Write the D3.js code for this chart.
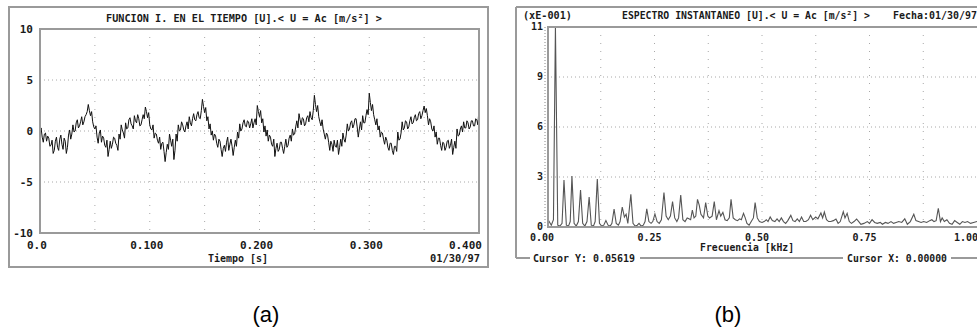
<!DOCTYPE html>
<html><head><meta charset="utf-8">
<script src="https://cdn.jsdelivr.net/npm/d3@7"></script>
<style>body{margin:0;background:#fff}svg{display:block}</style>
</head><body>
<script>
// ---------- DATA: (a) time signal ----------
const timeStep = 0.001; // seconds between samples
const timeValues = [
 -0.1,0.3,-0.6,-1.1,-0.3,-0.2,-1.0,-0.5,-0.7,-1.5,
 -1.4,-0.9,-2.2,-1.9,-1.0,-0.6,-1.6,-1.9,-0.8,-0.4,
 -1.3,-1.8,-0.7,-1.0,-2.2,-1.6,-0.4,0.1,-0.8,-0.3,
 0.6,-0.1,0.0,0.8,1.1,0.3,0.5,0.9,1.4,0.6,
 0.9,1.4,1.6,1.9,2.6,2.0,1.5,1.9,0.9,0.4,
 0.2,0.5,-0.6,-1.2,-0.2,0.1,-1.1,-0.5,-0.7,-1.4,
 -1.6,-0.9,-2.5,-1.8,-1.0,-1.7,-1.3,-0.6,-0.7,-1.2,
 -1.4,-1.9,-0.3,-0.8,0.6,0.1,-0.2,-0.7,0.8,0.2,
 0.3,1.1,1.3,0.7,0.5,0.2,1.5,1.0,0.8,1.6,
 1.2,0.5,0.6,1.1,1.6,1.2,2.35,1.9,1.3,1.8,
 0.6,0.2,0.1,0.6,-0.7,-0.2,-0.3,-0.9,-1.2,-0.6,
 -1.8,-1.2,-1.1,-2.0,-3.0,-2.1,-1.3,-1.8,-0.3,-0.9,
 -1.5,-0.8,-2.8,-1.9,-0.3,-1.0,0.6,0.0,0.1,0.9,
 0.6,0.1,-0.1,0.5,0.9,0.2,1.4,0.8,0.5,1.2,
 1.7,1.1,1.0,1.6,1.9,1.3,1.2,2.0,3.1,2.4,
 1.8,2.3,1.0,1.4,0.2,0.7,-0.4,0.0,-0.9,-0.3,
 -0.5,-1.2,-1.6,-0.8,-1.0,-1.8,-2.5,-1.7,-1.4,-2.0,
 -1.1,-0.6,-1.9,-1.3,-0.8,-1.5,-2.4,-1.6,-0.9,-1.5,
 -0.1,-0.7,0.7,0.0,0.2,0.8,1.1,0.5,0.4,1.0,
 0.9,0.3,0.7,1.2,0.3,0.8,1.2,0.6,2.5,1.9,
 1.4,2.0,0.8,1.2,-0.1,0.5,-0.5,0.1,-1.0,-0.4,
 -0.6,-1.3,-1.5,-0.8,-2.5,-1.7,-1.2,-2.0,-1.8,-1.1,
 -1.1,-1.7,-2.2,-1.5,-0.8,-1.6,-1.4,-0.7,-0.4,-1.0,
 0.2,-0.4,-0.3,0.4,1.0,0.3,1.7,1.1,0.6,1.3,
 1.2,0.5,0.7,1.3,1.5,0.9,1.9,1.3,1.1,2.0,
 3.5,2.6,1.9,2.5,1.4,0.9,0.5,1.1,0.2,-0.3,
 -0.8,-0.2,-0.4,-1.1,-1.9,-1.0,-1.3,-2.0,-0.9,-1.5,
 -1.6,-0.9,-2.3,-1.6,-0.8,-1.5,-0.2,-0.8,-1.1,-0.4,
 0.7,0.0,0.2,0.8,1.0,0.3,0.6,1.2,1.2,0.4,
 -0.6,0.2,0.9,0.1,1.5,0.8,0.8,1.5,2.1,1.6,
 3.7,2.8,2.0,2.6,1.6,1.1,0.6,1.2,0.1,0.5,
 -0.6,-0.1,-0.2,-0.8,-1.3,-0.6,-0.9,-1.6,-1.9,-1.2,
 -1.2,-1.9,-2.3,-1.5,-1.5,-2.0,-0.1,-0.9,-0.8,-0.2,
 0.9,0.1,0.3,1.0,0.9,0.2,0.4,1.0,1.4,0.7,
 0.8,1.3,1.6,1.0,1.1,1.7,1.9,1.2,1.5,2.0,
 2.45,1.8,2.2,1.5,0.6,1.2,0.9,0.2,0.0,0.5,
 -0.6,-0.1,-1.3,-0.7,-0.7,-1.4,-1.9,-1.1,-1.2,-1.9,
 -1.6,-1.0,-0.9,-1.7,-1.4,-0.8,-2.3,-1.6,-1.0,-1.7,
 0.2,-0.5,-0.4,0.2,0.5,-0.1,0.9,0.3,0.3,1.0,
 0.8,0.2,0.4,1.0,1.0,0.5,0.5,1.2,1.1,0.6,
 2.2
];
const timeXTicks = [0, 0.1, 0.2, 0.3, 0.4];
const timeXTickLabels = ["0.0", "0.100", "0.200", "0.300", "0.400"];
const timeXGrid = [0.05, 0.1, 0.15, 0.2, 0.25, 0.3, 0.35];
const timeYTicks = [10, 5, 0, -5, -10];
const timeYTickLabels = ["10", "5", "0", "-5", "-10"];
const timeYGrid = [5, 0, -5];

// ---------- DATA: (b) spectrum (kHz, xE-001) ----------
const specFreq = [
 0.000,0.005,0.010,0.015,0.0196,0.025,0.030,0.035,0.0395,0.045,
 0.050,0.054,0.058,0.063,0.068,0.073,0.078,0.083,0.088,0.093,
 0.098,0.103,0.108,0.112,0.117,0.122,0.127,0.132,0.137,0.142,
 0.147,0.151,0.156,0.161,0.166,0.170,0.175,0.180,0.184,0.188,
 0.195,0.200,0.205,0.210,0.214,0.219,0.224,0.228,0.232,0.237,
 0.242,0.246,0.251,0.256,0.261,0.266,0.272,0.277,0.282,0.287,
 0.292,0.297,0.302,0.306,0.311,0.316,0.321,0.326,0.330,0.334,
 0.338,0.342,0.346,0.350,0.354,0.358,0.364,0.369,0.374,0.378,
 0.384,0.389,0.394,0.400,0.404,0.409,0.414,0.419,0.424,0.428,
 0.433,0.438,0.443,0.448,0.452,0.457,0.461,0.465,0.470,0.475,
 0.480,0.484,0.489,0.494,0.500,0.505,0.510,0.514,0.519,0.524,
 0.530,0.535,0.540,0.545,0.550,0.555,0.560,0.567,0.572,0.577,
 0.582,0.587,0.592,0.597,0.602,0.608,0.613,0.618,0.625,0.630,
 0.637,0.641,0.645,0.650,0.655,0.660,0.666,0.672,0.677,0.682,
 0.689,0.693,0.698,0.703,0.708,0.714,0.720,0.725,0.730,0.737,
 0.745,0.750,0.756,0.762,0.768,0.775,0.780,0.787,0.793,0.800,
 0.806,0.812,0.818,0.825,0.832,0.838,0.845,0.853,0.858,0.864,
 0.870,0.876,0.883,0.890,0.895,0.900,0.905,0.910,0.915,0.919,
 0.924,0.930,0.936,0.942,0.948,0.954,0.960,0.966,0.972,0.978,
 0.985,0.992,1.000
];
const specAmp = [
 0.5,0.3,0.1,0.4,11.0,0.1,0.05,0.2,2.58,0.1,
 0.05,0.3,2.8,0.2,0.05,0.3,2.03,0.2,0.05,0.3,
 1.65,0.1,0.05,0.3,2.64,0.2,0.05,0.1,0.35,0.1,
 0.05,0.2,0.99,0.2,0.1,0.3,1.1,0.55,0.7,0.2,
 1.8,0.2,0.05,0.1,0.2,0.05,0.1,0.3,1.0,0.3,
 0.2,0.3,0.72,0.3,0.2,0.4,1.9,0.6,0.4,0.6,
 1.4,0.5,0.3,0.5,1.76,0.4,0.3,0.5,0.45,0.4,
 0.93,0.5,0.6,1.52,1.2,0.7,0.5,1.34,0.6,0.5,
 0.6,1.4,0.4,0.9,0.6,0.8,0.4,0.35,0.5,1.52,
 0.5,0.4,0.35,0.45,0.4,0.75,0.5,0.2,0.1,0.3,
 0.5,1.34,0.5,0.3,0.25,0.3,0.4,0.3,0.55,0.35,
 0.3,0.45,0.3,0.5,0.3,0.2,0.35,0.64,0.35,0.3,
 0.45,0.3,0.55,0.3,0.3,0.4,0.64,0.4,0.55,0.45,
 0.77,0.5,0.82,0.4,0.3,0.3,0.35,0.44,0.2,0.3,
 0.84,0.5,0.75,0.3,0.2,0.3,0.44,0.3,0.15,0.2,
 0.3,0.2,0.4,0.25,0.2,0.25,0.15,0.25,0.2,0.3,
 0.2,0.25,0.3,0.25,0.45,0.15,0.3,0.7,0.35,0.3,
 0.25,0.3,0.25,0.35,0.4,0.3,0.35,1.03,0.3,0.5,
 0.3,0.4,0.2,0.15,0.35,0.25,0.15,0.3,0.25,0.3,
 0.2,0.25,0.3
];
const specXTicks = [0, 0.25, 0.5, 0.75, 1.0];
const specXTickLabels = ["0.00", "0.25", "0.50", "0.75", "1.00"];
const specXGrid = [0.125, 0.25, 0.375, 0.5, 0.625, 0.75, 0.875];
const specYTicks = [0, 2.75, 5.5, 8.25, 11];
const specYTickLabels = ["0", "3", "6", "9", "11"];
const specYGrid = [2.75, 5.5, 8.25];

// ---------- DRAW ----------
const W = 977, H = 330;
const svg = d3.select("body").append("svg").attr("width", W).attr("height", H);
const MONO = "'DejaVu Sans Mono', monospace";
const frameCol = "#9a9a9a", gridCol = "#a8a8a8", txtCol = "#1a1a1a";

function txt(x, y, s, anchor, len, size) {
  const t = svg.append("text").attr("x", x).attr("y", y).text(s)
    .attr("font-family", MONO).attr("font-weight", "bold")
    .attr("font-size", size || 10).attr("fill", txtCol)
    .attr("text-anchor", anchor || "start");
  if (len) t.attr("textLength", len).attr("lengthAdjust", "spacingAndGlyphs");
  return t;
}

// ===== Panel (a) =====
svg.append("rect").attr("x", 9).attr("y", 7).attr("width", 479).attr("height", 260)
  .attr("fill", "none").attr("stroke", frameCol).attr("stroke-width", 2);
txt(244, 22, "FUNCION I. EN EL TIEMPO [U].< U =  Ac [m/s²] >", "middle", 276, 11);

const xA = d3.scaleLinear().domain([0, 0.4]).range([40, 479]);
const yA = d3.scaleLinear().domain([-10, 10]).range([233, 29]);

const gA = svg.append("g");
gA.selectAll("line.vg").data(timeXGrid).join("line")
  .attr("x1", d => xA(d)).attr("x2", d => xA(d)).attr("y1", yA(10)).attr("y2", yA(-10))
  .attr("stroke", gridCol).attr("stroke-dasharray", "1,7");
gA.selectAll("line.hg").data(timeYGrid).join("line")
  .attr("x1", xA(0)).attr("x2", xA(0.4)).attr("y1", d => yA(d)).attr("y2", d => yA(d))
  .attr("stroke", gridCol).attr("stroke-dasharray", "1,3");

svg.append("clipPath").attr("id", "clipA").append("rect")
  .attr("x", xA(0)).attr("y", yA(10)).attr("width", xA(0.4) - xA(0)).attr("height", yA(-10) - yA(10));
const lineA = d3.line().x((d, i) => xA(i * timeStep)).y(d => yA(d));
svg.append("path").datum(timeValues).attr("d", lineA).attr("clip-path", "url(#clipA)")
  .attr("fill", "none").attr("stroke", "#111").attr("stroke-width", 1);

svg.append("rect").attr("x", xA(0)).attr("y", yA(10)).attr("width", xA(0.4) - xA(0)).attr("height", yA(-10) - yA(10))
  .attr("fill", "none").attr("stroke", frameCol).attr("stroke-width", 2);

timeYTicks.forEach((v, i) => txt(33, yA(v) + 4, timeYTickLabels[i], "end", null, 11));
timeXTicks.forEach((v, i) => {
  const last = i === timeXTicks.length - 1, first = i === 0;
  txt(first ? xA(v) - 13 : last ? xA(v) + 3 : xA(v) - 3, 249, timeXTickLabels[i],
      first ? "start" : last ? "end" : "middle", null, 11);
});
txt(238, 262, "Tiempo [s]", "middle", 60, 11);
txt(480, 262, "01/30/97", "end", 50, 11);

// ===== Panel (b) =====
const fr = svg.append("g").attr("stroke", frameCol).attr("stroke-width", 2);
fr.append("line").attr("x1", 516).attr("x2", 977).attr("y1", 7).attr("y2", 7);
fr.append("line").attr("x1", 516).attr("x2", 516).attr("y1", 7).attr("y2", 258);
fr.append("line").attr("x1", 516).attr("x2", 530).attr("y1", 258).attr("y2", 258);
fr.append("line").attr("x1", 640).attr("x2", 843).attr("y1", 258).attr("y2", 258);
fr.append("line").attr("x1", 951).attr("x2", 977).attr("y1", 258).attr("y2", 258);

txt(523, 19, "(xE-001)", "start", 49, 10);
txt(746, 19, "ESPECTRO INSTANTANEO [U].< U = Ac [m/s²] >", "middle", 248, 10);
txt(893, 19, "Fecha:01/30/97", "start", 84, 10);

const xB = d3.scaleLinear().domain([0, 1.0]).range([547, 977]);
const yB = d3.scaleLinear().domain([0, 11]).range([227, 27]);

const gB = svg.append("g");
gB.selectAll("line.vg").data(specXGrid).join("line")
  .attr("x1", d => xB(d)).attr("x2", d => xB(d)).attr("y1", yB(11)).attr("y2", yB(0))
  .attr("stroke", gridCol).attr("stroke-dasharray", "1,7");
gB.selectAll("line.hg").data(specYGrid).join("line")
  .attr("x1", xB(0)).attr("x2", xB(1)).attr("y1", d => yB(d)).attr("y2", d => yB(d))
  .attr("stroke", gridCol).attr("stroke-dasharray", "1,3");

svg.append("clipPath").attr("id", "clipB").append("rect")
  .attr("x", xB(0)).attr("y", yB(11) - 1).attr("width", xB(1) - xB(0)).attr("height", yB(0) - yB(11) + 1);
const lineB = d3.line().x((d, i) => xB(specFreq[i])).y(d => yB(d));
svg.append("path").datum(specAmp).attr("d", lineB).attr("clip-path", "url(#clipB)")
  .attr("fill", "none").attr("stroke", "#555").attr("stroke-width", 1.1);

// axes box for (b)
const ab = svg.append("g").attr("stroke", frameCol).attr("stroke-width", 2);
ab.append("line").attr("x1", xB(0) + 1).attr("x2", xB(0) + 1).attr("y1", yB(11)).attr("y2", yB(0));
ab.append("line").attr("x1", xB(0)).attr("x2", xB(1)).attr("y1", yB(11)).attr("y2", yB(11));
ab.append("line").attr("x1", xB(0)).attr("x2", xB(1)).attr("y1", yB(0)).attr("y2", yB(0));
svg.append("line").attr("x1", xB(0) - 2).attr("x2", xB(0) - 2).attr("y1", yB(11)).attr("y2", yB(0))
  .attr("stroke", "#888").attr("stroke-dasharray", "1,2");

specYTicks.forEach((v, i) => txt(543, yB(v) + 3, specYTickLabels[i], "end", null, 10));
specXTicks.forEach((v, i) => {
  const last = i === specXTicks.length - 1;
  txt(last ? xB(v) + 1 : xB(v) - 5, 241, specXTickLabels[i], last ? "end" : "middle", null, 10);
});
txt(747, 251, "Frecuencia [kHz]", "middle", 94, 10);
txt(533, 262, "Cursor Y: 0.05619", "start", 102, 10);
txt(847, 262, "Cursor X: 0.00000", "start", 100, 10);

// ===== captions =====
svg.append("text").attr("x", 266).attr("y", 322).attr("text-anchor", "middle")
  .attr("font-family", "'Liberation Sans', Arial, sans-serif").attr("font-size", 22).attr("fill", "#000").text("(a)");
svg.append("text").attr("x", 728).attr("y", 322).attr("text-anchor", "middle")
  .attr("font-family", "'Liberation Sans', Arial, sans-serif").attr("font-size", 22).attr("fill", "#000").text("(b)");
</script>
</body></html>
